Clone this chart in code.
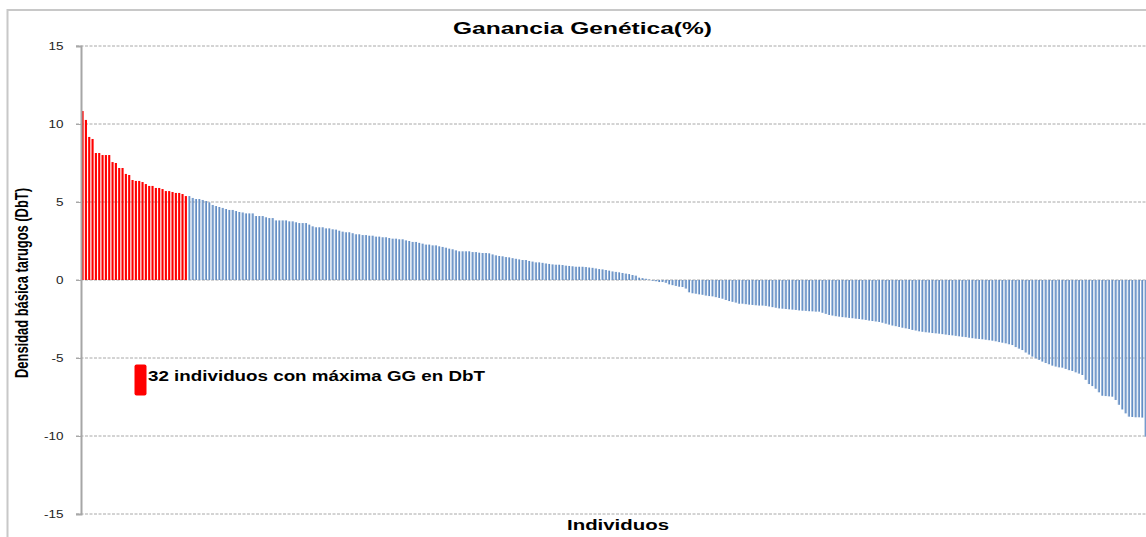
<!DOCTYPE html>
<html>
<head>
<meta charset="utf-8">
<script src="https://cdn.jsdelivr.net/npm/d3@7"></script>
<style>
  body { margin: 0; background: #fff; }
  text { font-family: "Liberation Sans", Arial, sans-serif; fill: #000; }
</style>
</head>
<body>
<div id="chart"></div>
<script>
// 32 individuals with the highest genetic gain (red)
const topValues = [
  10.83, 10.26, 9.17, 9.04, 8.14, 8.14, 8.01, 8.01, 8.01, 7.56,
  7.5, 7.18, 7.18, 6.8, 6.73, 6.41, 6.35, 6.35, 6.28, 6.15,
  6.03, 6.03, 5.9, 5.9, 5.83, 5.7, 5.7, 5.64, 5.58, 5.58,
  5.51, 5.38
];

// remaining individuals (blue)
const restValues = [
  5.38, 5.26, 5.19, 5.19, 5.13, 5.06, 4.98, 4.81,
  4.74, 4.68, 4.62, 4.55, 4.49, 4.49, 4.42, 4.36, 4.33, 4.27,
  4.27, 4.27, 4.1, 4.1, 4.1, 4.02, 3.97, 3.97, 3.82, 3.82,
  3.82, 3.82, 3.76, 3.76, 3.7, 3.65, 3.65, 3.65, 3.55, 3.44,
  3.38, 3.38, 3.38, 3.31, 3.31, 3.25, 3.23, 3.16, 3.1, 3.06,
  3.06, 3.0, 2.93, 2.93, 2.88, 2.88, 2.84, 2.84, 2.78, 2.78,
  2.74, 2.74, 2.69, 2.65, 2.65, 2.61, 2.61, 2.54, 2.5, 2.44,
  2.44, 2.38, 2.33, 2.27, 2.27, 2.22, 2.22, 2.16, 2.12, 2.07,
  2.01, 1.97, 1.9, 1.84, 1.84, 1.84, 1.84, 1.79, 1.79, 1.75,
  1.73, 1.73, 1.71, 1.64, 1.58, 1.54, 1.52, 1.47, 1.45, 1.4,
  1.36, 1.32, 1.28, 1.28, 1.22, 1.18, 1.13, 1.13, 1.1, 1.06,
  1.03, 1.0, 0.98, 0.98, 0.96, 0.92, 0.9, 0.88, 0.85, 0.85,
  0.85, 0.83, 0.8, 0.78, 0.74, 0.7, 0.68, 0.64, 0.6, 0.55,
  0.52, 0.49, 0.45, 0.41, 0.38, 0.32, 0.28, 0.15, 0.12, 0.08,
  0.03, -0.05, -0.08, -0.13, -0.13, -0.18, -0.28, -0.33, -0.38, -0.43,
  -0.45, -0.55, -0.79, -0.85, -0.88, -0.92, -0.95, -1.0, -1.03, -1.05,
  -1.1, -1.15, -1.2, -1.28, -1.35, -1.4, -1.45, -1.52, -1.52, -1.55,
  -1.58, -1.6, -1.62, -1.64, -1.64, -1.66, -1.7, -1.74, -1.78, -1.82,
  -1.84, -1.86, -1.88, -1.9, -1.92, -1.95, -1.97, -1.98, -2.0, -2.01,
  -2.03, -2.03, -2.1, -2.17, -2.24, -2.28, -2.32, -2.35, -2.38, -2.4,
  -2.43, -2.45, -2.48, -2.5, -2.53, -2.56, -2.6, -2.63, -2.66, -2.69,
  -2.74, -2.8, -2.86, -2.92, -2.96, -3.01, -3.06, -3.1, -3.14, -3.2,
  -3.24, -3.29, -3.32, -3.35, -3.37, -3.4, -3.42, -3.44, -3.47, -3.5,
  -3.53, -3.55, -3.58, -3.61, -3.64, -3.66, -3.7, -3.73, -3.76, -3.78,
  -3.8, -3.83, -3.86, -3.89, -3.93, -3.98, -4.02, -4.06, -4.12, -4.17,
  -4.3, -4.4, -4.49, -4.65, -4.78, -4.91, -5.02, -5.12, -5.23, -5.32,
  -5.4, -5.49, -5.55, -5.6, -5.62, -5.7, -5.78, -5.83, -5.92, -6.0,
  -6.09, -6.4, -6.67, -6.8, -6.97, -7.2, -7.42, -7.44, -7.46, -7.48,
  -7.69, -8.0, -8.3, -8.55, -8.76, -8.78, -8.8, -8.8, -8.82, -10.04
];

const yTicks = [-15, -10, -5, 0, 5, 10, 15];

const titleText = "Ganancia Genética(%)";
const yTitleText = "Densidad básica  tarugos (DbT)";
const xTitleText = "Individuos";
const legendText = "32 individuos con máxima GG en DbT";

const width = 1146;
const height = 537;
const plot = { left: 81, right: 1147, top: 46, bottom: 514 };

// one row per individual, sorted as in the source
const data = topValues
  .map(v => ({ value: v, top: true }))
  .concat(restValues.map(v => ({ value: v, top: false })));

const svg = d3
  .select("#chart")
  .append("svg")
  .attr("width", width)
  .attr("height", height);

// Excel-like gradient for the blue bars
const grad = svg
  .append("defs")
  .append("linearGradient")
  .attr("id", "blueBar")
  .attr("x1", "0").attr("x2", "1").attr("y1", "0").attr("y2", "0");
grad.append("stop").attr("offset", "0%").attr("stop-color", "#a9c2e0");
grad.append("stop").attr("offset", "45%").attr("stop-color", "#7fa2cf");
grad.append("stop").attr("offset", "100%").attr("stop-color", "#3f73b5");

// Chart frame
svg
  .append("rect")
  .attr("x", 7.5)
  .attr("y", 10)
  .attr("width", 1200)
  .attr("height", 600)
  .attr("fill", "none")
  .attr("stroke", "#c8c8c8")
  .attr("stroke-width", 2);

// Scales
const xScale = d3
  .scaleBand()
  .domain(d3.range(data.length))
  .range([plot.left, plot.right])
  .paddingInner(0.36)
  .paddingOuter(0.15);
const yScale = d3
  .scaleLinear()
  .domain([-15, 15])
  .range([plot.bottom, plot.top]);

// Gridlines
svg
  .append("g")
  .selectAll("line")
  .data(yTicks)
  .enter()
  .append("line")
  .attr("x1", plot.left - 5)
  .attr("x2", width)
  .attr("y1", d => yScale(d))
  .attr("y2", d => yScale(d))
  .attr("stroke", "#a8a8a8")
  .attr("stroke-width", 1)
  .attr("stroke-dasharray", "3,1.5");

// Bars
svg
  .append("g")
  .selectAll("rect")
  .data(data)
  .enter()
  .append("rect")
  .attr("x", (d, i) => xScale(i))
  .attr("width", xScale.bandwidth())
  .attr("y", d => yScale(Math.max(0, d.value)))
  .attr("height", d => Math.abs(yScale(d.value) - yScale(0)))
  .attr("fill", d => (d.top ? "#ff0000" : "url(#blueBar)"));

// Y axis
const yAxis = d3
  .axisLeft(yScale)
  .tickValues(yTicks)
  .tickSize(5)
  .tickPadding(0)
  .tickFormat(d => String(d));

const yAxisG = svg
  .append("g")
  .attr("transform", `translate(${plot.left}, 0)`)
  .call(yAxis);
yAxisG.select(".domain").attr("stroke", "#a6a6a6").attr("stroke-width", 2);
yAxisG.selectAll(".tick line").attr("stroke", "#a8a8a8");
yAxisG
  .selectAll(".tick text")
  .attr("x", -13)
  .attr("dy", "0.36em")
  .attr("transform", "scale(1.35,1)")
  .style("font-size", "10px")
  .style("font-family", "'Liberation Sans', Arial, sans-serif")
  .style("fill", "#222");

// Title
svg
  .append("text")
  .attr("x", 453)
  .attr("y", 34)
  .attr("textLength", 259)
  .attr("lengthAdjust", "spacingAndGlyphs")
  .style("font-size", "16.5px")
  .style("font-weight", "bold")
  .text(titleText);

// Y axis title
svg
  .append("text")
  .attr("transform", "translate(28, 283) rotate(-90)")
  .attr("text-anchor", "middle")
  .attr("textLength", 190)
  .attr("lengthAdjust", "spacingAndGlyphs")
  .style("font-size", "18.5px")
  .style("font-weight", "bold")
  .text(yTitleText);

// X axis title
svg
  .append("text")
  .attr("x", 567)
  .attr("y", 530)
  .attr("textLength", 102)
  .attr("lengthAdjust", "spacingAndGlyphs")
  .style("font-size", "15px")
  .style("font-weight", "bold")
  .text(xTitleText);

// Legend
svg
  .append("rect")
  .attr("x", 134.5)
  .attr("y", 364.5)
  .attr("width", 12)
  .attr("height", 31)
  .attr("rx", 2)
  .attr("fill", "#ff0000");
svg
  .append("text")
  .attr("x", 148)
  .attr("y", 380.5)
  .attr("textLength", 337)
  .attr("lengthAdjust", "spacingAndGlyphs")
  .style("font-size", "14.5px")
  .style("font-weight", "bold")
  .text(legendText);
</script>
</body>
</html>
